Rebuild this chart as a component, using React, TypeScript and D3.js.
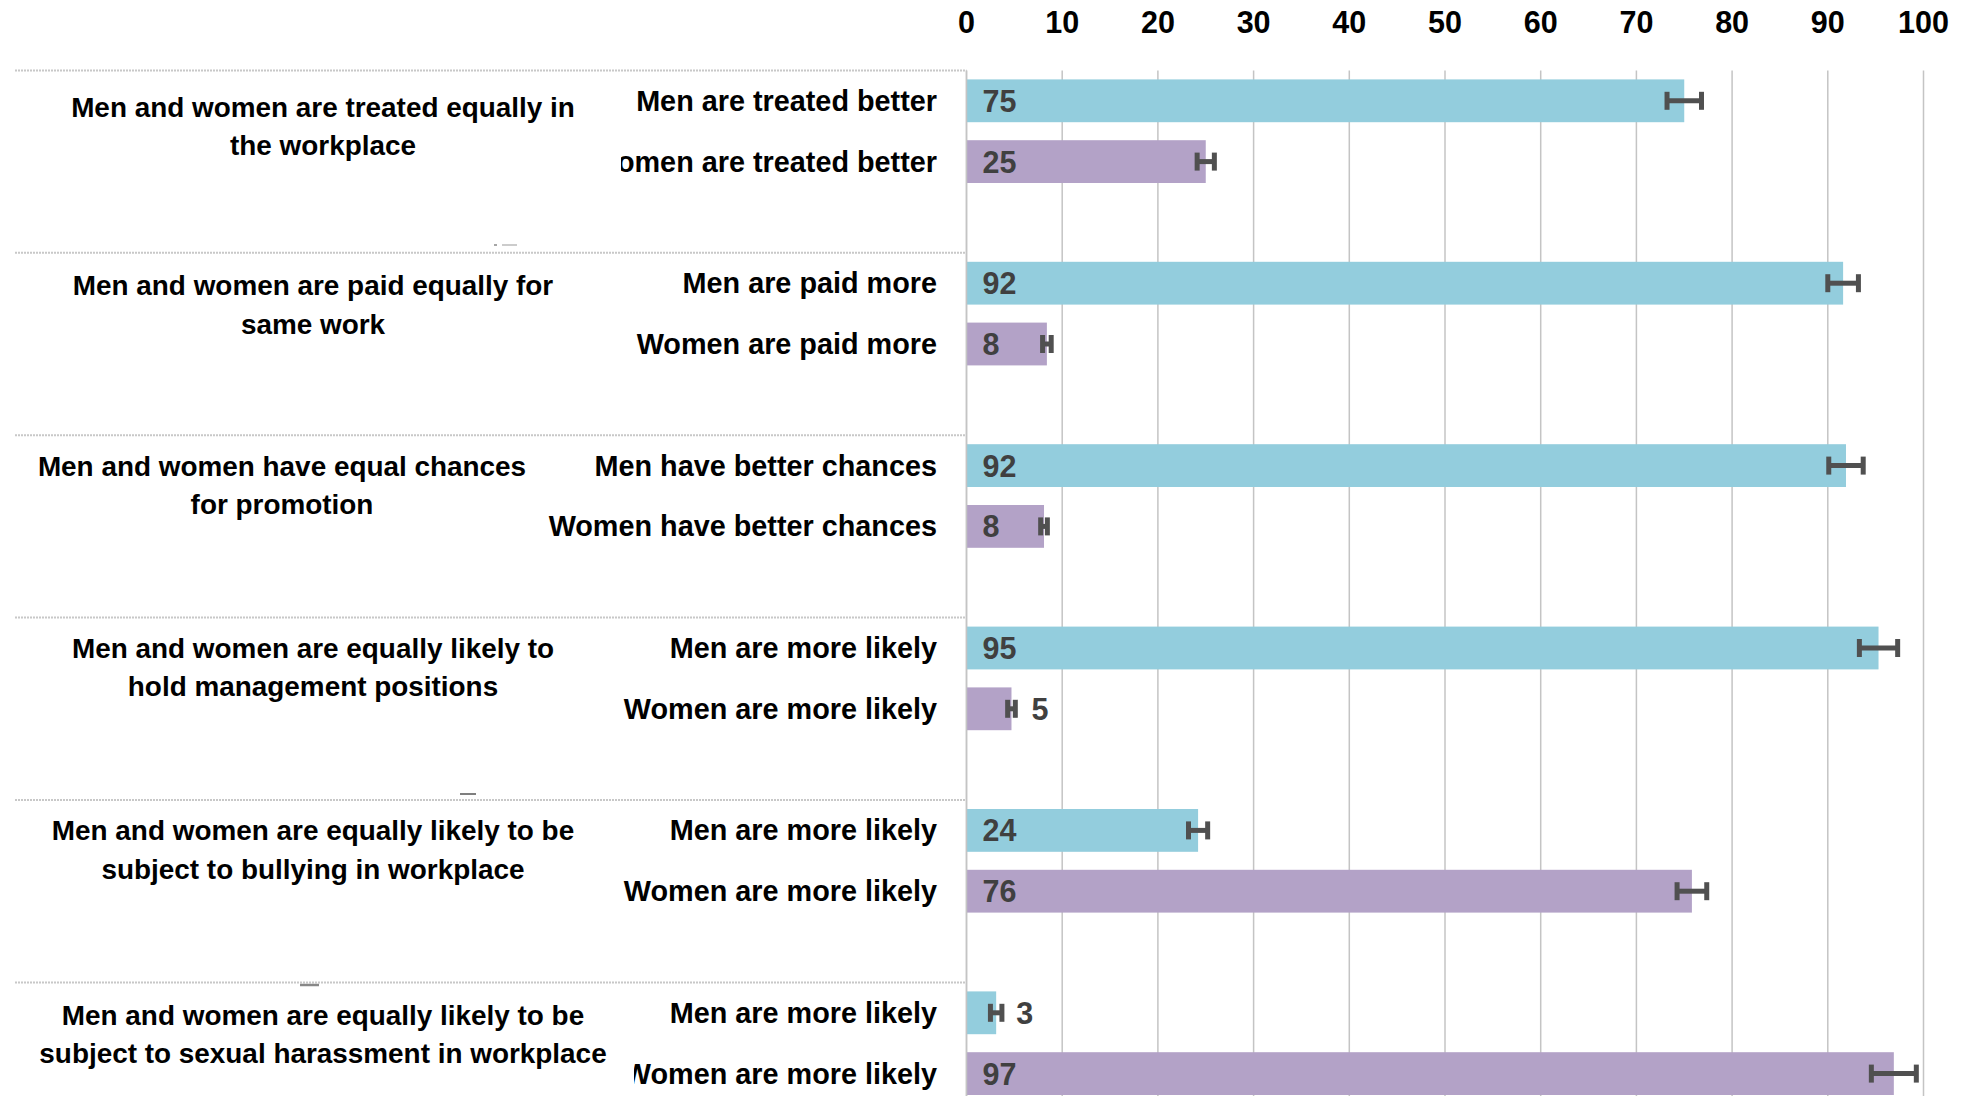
import React from "react";
import * as d3 from "d3";

// ---- Data ----
const groupTitles: string[][] = [
  ["Men and women are treated equally in", "the workplace"],
  ["Men and women are paid equally for", "same work"],
  ["Men and women have equal chances", "for promotion"],
  ["Men and women are equally likely to", "hold management positions"],
  ["Men and women are equally likely to be", "subject to bullying in workplace"],
  ["Men and women are equally likely to be", "subject to sexual harassment in workplace"],
];
const menLabels = [
  "Men are treated better",
  "Men are paid more",
  "Men have better chances",
  "Men are more likely",
  "Men are more likely",
  "Men are more likely",
];
const womenLabels = [
  "Women are treated better",
  "Women are paid more",
  "Women have better chances",
  "Women are more likely",
  "Women are more likely",
  "Women are more likely",
];
const menValues = [75, 91.6, 91.9, 95.3, 24.2, 3.1];
const womenValues = [25, 8.4, 8.1, 4.7, 75.8, 96.9];
const menErrors = [1.8, 1.6, 1.8, 2.0, 1.0, 0.6];
const womenErrors = [0.9, 0.45, 0.35, 0.4, 1.55, 2.35];
const xDomain = [0, 100];

// ---- Layout ----
const W = 1972;
const H = 1096;
const PLOT_LEFT = 966.5;
const PLOT_RIGHT = 1923.5;
const PLOT_TOP = 70.4;
const GROUP_H = 182.4;
const TABLE_LEFT = 15;
const titleCenters = [323, 313, 282, 313, 313, 323];
const titleOffsets = [6, 2, 0, 0, 0, 2];
const labelCellLeft: (number | null)[] = [621, null, null, null, null, 634];
const LABEL_RIGHT = 937;
const FONT = "'Liberation Sans', Arial, sans-serif";
const MEN_COLOR = "#93CDDD";
const WOMEN_COLOR = "#B3A2C7";
const ERR_COLOR = "#505050";
const LABEL_COLOR = "#404040";
const GRID_COLOR = "#C4C4C4";

export default function App() {
  const x = d3.scaleLinear().domain(xDomain).range([PLOT_LEFT, PLOT_RIGHT]);
  const groups = d3
    .scaleBand<number>()
    .domain(d3.range(groupTitles.length))
    .range([PLOT_TOP, PLOT_TOP + GROUP_H * groupTitles.length])
    .padding(0);
  const inner = d3
    .scaleBand<string>()
    .domain(["men", "women", "gap"])
    .range([0, groups.bandwidth()])
    .paddingInner(0.296)
    .paddingOuter(0.148);
  const ticks = x.ticks(10);
  const bottom = PLOT_TOP + GROUP_H * groupTitles.length;

  const renderBar = (g: number, key: "men" | "women") => {
    const v = key === "men" ? menValues[g] : womenValues[g];
    const e = key === "men" ? menErrors[g] : womenErrors[g];
    const color = key === "men" ? MEN_COLOR : WOMEN_COLOR;
    const y = (groups(g) as number) + (inner(key) as number);
    const bh = inner.bandwidth();
    const cy = y + bh / 2;
    const inside = x(v) - x(0) > 60;
    const lx = inside ? x(0) + 16 : x(v) + 20;
    return (
      <g key={key + g}>
        <rect x={x(0)} y={y} width={x(v) - x(0)} height={bh} fill={color} />
        <line x1={x(v - e)} x2={x(v + e)} y1={cy} y2={cy} stroke={ERR_COLOR} strokeWidth={5} />
        <line x1={x(v - e)} x2={x(v - e)} y1={cy - 9} y2={cy + 9} stroke={ERR_COLOR} strokeWidth={5} />
        <line x1={x(v + e)} x2={x(v + e)} y1={cy - 9} y2={cy + 9} stroke={ERR_COLOR} strokeWidth={5} />
        <text
          x={lx}
          y={cy + 11}
          fontFamily={FONT}
          fontWeight="bold"
          fontSize={30.5}
          fill={LABEL_COLOR}
        >
          {Math.round(v)}
        </text>
      </g>
    );
  };

  return (
    <svg
      width={W}
      height={H}
      style={{ position: "absolute", left: 0, top: 0, display: "block", background: "#fff" }}
    >
      <defs>
        {labelCellLeft.map((cl, g) =>
          cl === null ? null : (
            <clipPath id={"cell" + g} key={"cp" + g}>
              <rect x={cl} y={0} width={PLOT_LEFT - cl} height={H} />
            </clipPath>
          )
        )}
      </defs>
      <rect x={0} y={0} width={W} height={H} fill="#fff" />

      {/* gridlines */}
      {ticks.map((t) => (
        <line
          key={"grid" + t}
          x1={x(t)}
          x2={x(t)}
          y1={PLOT_TOP}
          y2={bottom}
          stroke={GRID_COLOR}
          strokeWidth={1.5}
        />
      ))}

      {/* tick labels */}
      {ticks.map((t) => (
        <text
          key={"tick" + t}
          x={x(t)}
          y={33}
          textAnchor="middle"
          fontFamily={FONT}
          fontWeight="bold"
          fontSize={30.5}
          fill="#000"
        >
          {t}
        </text>
      ))}

      {/* table separators */}
      {d3.range(groupTitles.length).map((g) => (
        <line
          key={"sep" + g}
          x1={TABLE_LEFT}
          x2={PLOT_LEFT}
          y1={groups(g) as number}
          y2={groups(g) as number}
          stroke="#C8C8C8"
          strokeWidth={2}
          strokeDasharray="2 1"
        />
      ))}

      {/* small stray marks */}
      <line x1={494} x2={497} y1={245} y2={245} stroke="#888" strokeWidth={1.5} />
      <line x1={502} x2={517} y1={245} y2={245} stroke="#999" strokeWidth={1} />
      <line x1={460} x2={476} y1={794} y2={794} stroke="#555" strokeWidth={1.5} />
      <line x1={300} x2={319} y1={985} y2={985} stroke="#888" strokeWidth={2.5} />

      {/* group titles */}
      {groupTitles.map((lines, g) => {
        const cy = (groups(g) as number) + (inner("men") as number) + inner.bandwidth() / 2 + titleOffsets[g];
        return (
          <text
            key={"title" + g}
            textAnchor="middle"
            fontFamily={FONT}
            fontWeight="bold"
            fontSize={27.9}
            fill="#000"
          >
            {lines.map((ln, i) => (
              <tspan key={i} x={titleCenters[g]} y={cy + 10 + i * 38.4}>
                {ln}
              </tspan>
            ))}
          </text>
        );
      })}

      {/* sub labels */}
      {d3.range(groupTitles.length).map((g) => (
        <g key={"sub" + g} clipPath={labelCellLeft[g] === null ? undefined : `url(#cell${g})`}>
          {(["men", "women"] as const).map((k) => (
            <text
              key={k}
              x={LABEL_RIGHT}
              y={(groups(g) as number) + (inner(k) as number) + inner.bandwidth() / 2 + 10}
              textAnchor="end"
              fontFamily={FONT}
              fontWeight="bold"
              fontSize={28.8}
              fill="#000"
            >
              {k === "men" ? menLabels[g] : womenLabels[g]}
            </text>
          ))}
        </g>
      ))}

      {/* bars */}
      {d3.range(groupTitles.length).map((g) => (
        <g key={"bars" + g}>
          {renderBar(g, "men")}
          {renderBar(g, "women")}
        </g>
      ))}

      {/* axis line at 0 */}
      <line x1={x(0)} x2={x(0)} y1={PLOT_TOP} y2={bottom} stroke={GRID_COLOR} strokeWidth={1.5} />
    </svg>
  );
}
